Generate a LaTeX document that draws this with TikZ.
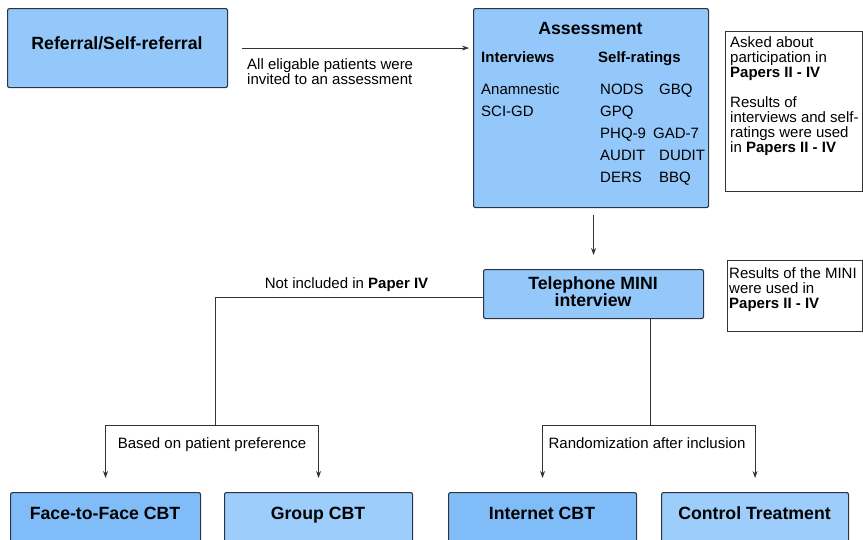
\documentclass[tikz,border=0pt]{standalone}
\usepackage{fontspec}
\setmainfont{Liberation Sans}
\usetikzlibrary{arrows.meta}
\definecolor{boxblue}{HTML}{94C8FB}
\definecolor{boxdark}{HTML}{80BDF8}
\definecolor{boxlight}{HTML}{9DCDFB}
\definecolor{boxline}{HTML}{2B3440}
\definecolor{lineclr}{HTML}{333333}
\begin{document}
\begin{tikzpicture}[x=1pt,y=-1pt,
  box/.style={draw=boxline, line width=1.1pt, rounded corners=2pt, fill=boxblue, inner sep=0pt, anchor=north west},
  notebox/.style={draw=lineclr, line width=0.9pt, fill=white, inner sep=0pt, anchor=north west},
  ttl/.style={font=\fontsize{17.7}{18}\selectfont\bfseries, anchor=base, inner sep=0pt},
  sub/.style={font=\fontsize{15}{15}\selectfont\bfseries, anchor=base west, inner sep=0pt},
  txt/.style={font=\fontsize{15}{15}\selectfont, anchor=base west, inner sep=0pt},
  ctxt/.style={font=\fontsize{15}{15}\selectfont, anchor=base, inner sep=0pt},
  conn/.style={draw=lineclr, line width=0.9pt},
  arr/.style={conn, -{Stealth[length=7pt,width=5pt]}}
]
\useasboundingbox (0,0) rectangle (863,539);
\clip (0,0) rectangle (863,539);

% boxes
\node[box, minimum width=220pt, minimum height=79pt] (ref) at (7,8) {};
\node[box, minimum width=235pt, minimum height=199pt] (assess) at (473,8) {};
\node[notebox, minimum width=137pt, minimum height=160pt] (note1) at (725,31) {};
\node[box, minimum width=220pt, minimum height=49pt] (tel) at (483,269) {};
\node[notebox, minimum width=135pt, minimum height=71pt] (note2) at (727,260) {};
\node[box, fill=boxdark, minimum width=190pt, minimum height=70pt] (face) at (10,492) {};
\node[box, fill=boxlight, minimum width=188pt, minimum height=70pt] (group) at (224,492) {};
\node[box, fill=boxdark, minimum width=188pt, minimum height=70pt] (inet) at (448,492) {};
\node[box, fill=boxlight, minimum width=187pt, minimum height=70pt] (ctrl) at (661,492) {};

% texts in boxes
\node[ttl] (reft) at (117,49.5) {Referral/Self-referral};
\node[ttl] (asst) at (590.5,34) {Assessment};
\node[sub] (intv) at (481,62.5) {Interviews};
\node[sub] (selfr) at (598,62.5) {Self-ratings};
\node[txt] (anam) at (481,94.5) {Anamnestic};
\node[txt] (scigd) at (481,116) {SCI-GD};
\node[txt] (nods) at (600,94.5) {NODS};
\node[txt] (gbq) at (659,94.5) {GBQ};
\node[txt] (gpq) at (600,116) {GPQ};
\node[txt] (phq) at (600,138) {PHQ-9};
\node[txt] (gad) at (653,138) {GAD-7};
\node[txt] (audit) at (600,160) {AUDIT};
\node[txt] (dudit) at (659,160) {DUDIT};
\node[txt] (ders) at (600,182) {DERS};
\node[txt] (bbq) at (659,182) {BBQ};

\node[txt] (n1a) at (730,47.5) {Asked about};
\node[txt] (n1b) at (730,62.5) {participation in};
\node[txt] (n1c) at (730,77.5) {\bfseries Papers II - IV};
\node[txt] (n1d) at (730,107.5) {Results of};
\node[txt] (n1e) at (730,122.5) {interviews and self-};
\node[txt] (n1f) at (730,137.5) {ratings were used};
\node[txt] (n1g) at (730,152.5) {in \textbf{Papers II - IV}};

\node[ttl] (telt1) at (593,289) {Telephone MINI};
\node[ttl] (telt2) at (593,306) {interview};

\node[txt] (n2a) at (729,278.5) {Results of the MINI};
\node[txt] (n2b) at (729,293.5) {were used in};
\node[txt] (n2c) at (729,308.5) {\bfseries Papers II - IV};

\node[ttl] (facet) at (105,519) {Face-to-Face CBT};
\node[ttl] (groupt) at (318,519) {Group CBT};
\node[ttl] (inett) at (542,519) {Internet CBT};
\node[ttl] (ctrlt) at (754.5,519) {Control Treatment};

% connector labels
\node[txt] (lab1a) at (247,69) {All eligable patients were};
\node[txt] (lab1b) at (247,84) {invited to an assessment};
\node[ctxt] (lab2) at (346.5,288.5) {Not included in \textbf{Paper IV}};
\node[ctxt] (lab3) at (212,448.5) {Based on patient preference};
\node[ctxt] (lab4) at (647,448.5) {Randomization after inclusion};

% connectors
\draw[arr, shorten <=14pt, shorten >=4pt] (ref.east) -- (ref.east -| assess.west);
\draw[arr, shorten <=7pt, shorten >=14pt] (tel.north |- assess.south) -- (tel.north);

\coordinate (lsplit) at (215,425);
\coordinate (rsplit) at (650,425);
\draw[conn] ([yshift=-3pt]tel.west) -| (lsplit);
\draw[arr, shorten >=14pt] (lsplit) -| (face.north);
\draw[arr, shorten >=14pt] (lsplit) -| (group.north);
\draw[conn] (tel.south -| rsplit) -- (rsplit);
\draw[arr, shorten >=14pt] (rsplit) -| (inet.north);
\draw[arr, shorten >=14pt] (rsplit) -| (ctrl.north);
\end{tikzpicture}
\end{document}
